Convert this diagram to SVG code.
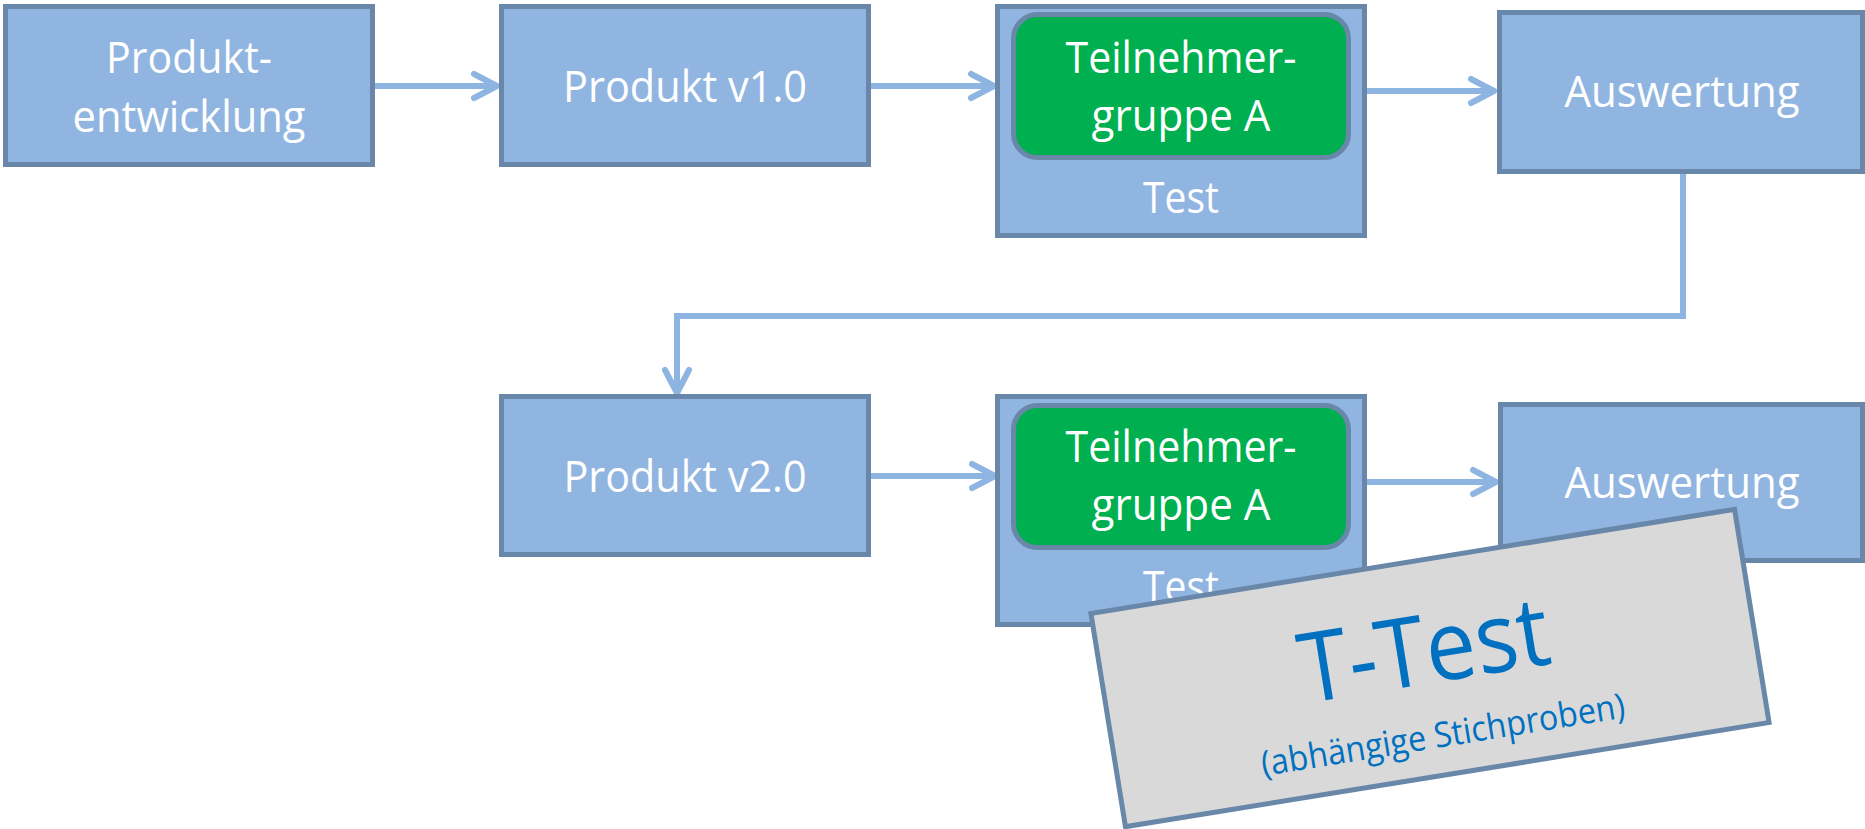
<svg xmlns="http://www.w3.org/2000/svg" width="1865" height="829" viewBox="0 0 1865 829">
  <defs>
    <style>
      .box { fill: #91B5E1; stroke: #6887A9; stroke-width: 5; }
      .grp { fill: #00AF50; stroke: #6887A9; stroke-width: 5; }
      .lbl { font-family: "Open Sans", "Noto Sans", sans-serif; font-size: 43px; fill: #FFFFFF; text-anchor: middle; }
      .conn { fill: none; stroke: #8EB4E2; stroke-width: 6; }
      .note { fill: #D9D9D9; stroke: #6887A9; stroke-width: 5; }
      .big { font-family: "Open Sans", "Noto Sans", sans-serif; fill: #0070C0; text-anchor: middle; }
    </style>
    <marker id="chev" markerUnits="userSpaceOnUse" markerWidth="40" markerHeight="40" viewBox="-30 -20 40 40" refX="0" refY="0" orient="auto">
      <path d="M-23,-12 L0,0 L-23,12" fill="none" stroke="#8EB4E2" stroke-width="6" stroke-linecap="round" stroke-linejoin="round"/>
    </marker>
  </defs>

  <rect width="1865" height="829" fill="#FFFFFF"/>

  <!-- connectors -->
  <g id="connectors" class="conn">
    <path d="M375,86 H497" marker-end="url(#chev)"/>
    <path d="M871,86 H994" marker-end="url(#chev)"/>
    <path d="M1367,91 H1494" marker-end="url(#chev)"/>
    <path d="M1683,174 V316 H677 V393" marker-end="url(#chev)"/>
    <path d="M871,476 H995" marker-end="url(#chev)"/>
    <path d="M1366,482 H1496" marker-end="url(#chev)"/>
  </g>

  <!-- first round -->
  <g id="produktentwicklung">
    <rect class="box" x="5.5" y="6.5" width="367" height="158"/>
    <text class="lbl" x="189" y="73" textLength="166" lengthAdjust="spacingAndGlyphs">Produkt-</text>
    <text class="lbl" x="189" y="132" textLength="233" lengthAdjust="spacingAndGlyphs">entwicklung</text>
  </g>

  <g id="produkt-v1">
    <rect class="box" x="501.5" y="6.5" width="367" height="158"/>
    <text class="lbl" x="685" y="102" textLength="244" lengthAdjust="spacingAndGlyphs">Produkt v1.0</text>
  </g>

  <g id="test-1">
    <rect class="box" x="997.5" y="6.5" width="367" height="229"/>
    <rect class="grp" x="1013.5" y="14.5" width="335" height="143" rx="24"/>
    <text class="lbl" x="1181" y="73" textLength="231" lengthAdjust="spacingAndGlyphs">Teilnehmer-</text>
    <text class="lbl" x="1181" y="131" textLength="179" lengthAdjust="spacingAndGlyphs">gruppe A</text>
    <text class="lbl" x="1181" y="213" textLength="76" lengthAdjust="spacingAndGlyphs">Test</text>
  </g>

  <g id="auswertung-1">
    <rect class="box" x="1499.5" y="12.5" width="363" height="159"/>
    <text class="lbl" x="1682" y="107" textLength="235" lengthAdjust="spacingAndGlyphs">Auswertung</text>
  </g>

  <!-- second round -->
  <g id="produkt-v2">
    <rect class="box" x="501.5" y="396.5" width="367" height="158"/>
    <text class="lbl" x="685" y="492" textLength="243" lengthAdjust="spacingAndGlyphs">Produkt v2.0</text>
  </g>

  <g id="test-2">
    <rect class="box" x="997.5" y="396.5" width="367" height="228"/>
    <rect class="grp" x="1013.5" y="405.5" width="335" height="142" rx="24"/>
    <text class="lbl" x="1181" y="462" textLength="231" lengthAdjust="spacingAndGlyphs">Teilnehmer-</text>
    <text class="lbl" x="1181" y="520" textLength="179" lengthAdjust="spacingAndGlyphs">gruppe A</text>
    <text class="lbl" x="1181" y="602" textLength="76" lengthAdjust="spacingAndGlyphs">Test</text>
  </g>

  <g id="auswertung-2">
    <rect class="box" x="1500.5" y="404.5" width="362" height="156"/>
    <text class="lbl" x="1682" y="498" textLength="235" lengthAdjust="spacingAndGlyphs">Auswertung</text>
  </g>

  <!-- tilted card naming the statistical test -->
  <g id="t-test" transform="translate(1430,668) rotate(-9.2)">
    <rect class="note" x="-326" y="-108" width="652" height="216"/>
    <text class="big" x="-3" y="15" font-size="97" textLength="252" lengthAdjust="spacingAndGlyphs">T-Test</text>
    <text class="big" x="2" y="80" font-size="35" textLength="368" lengthAdjust="spacingAndGlyphs">(abhängige Stichproben)</text>
  </g>
</svg>
